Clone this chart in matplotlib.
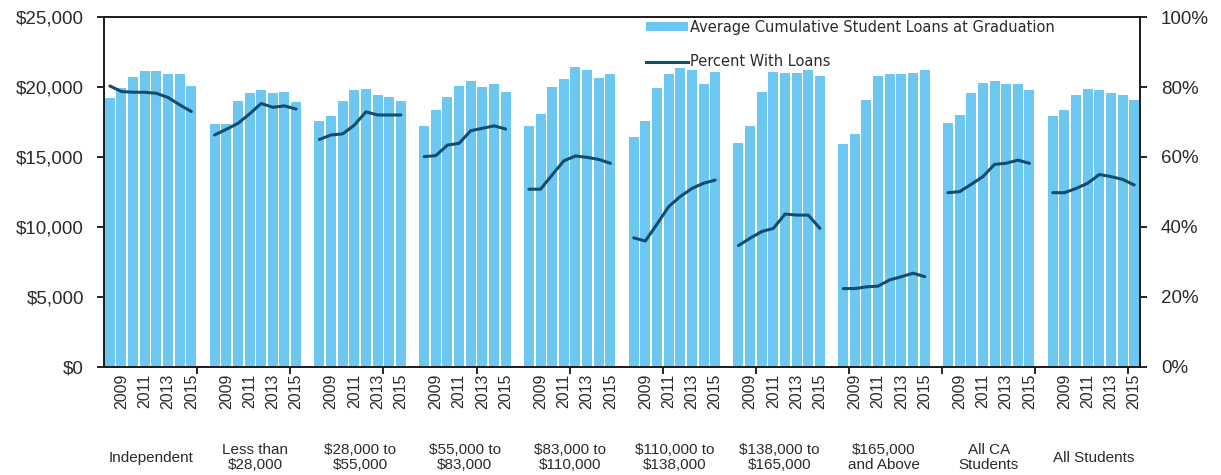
import matplotlib.pyplot as plt
import numpy as np
from matplotlib.patches import Patch
from matplotlib.lines import Line2D
from matplotlib.ticker import FuncFormatter

plt.rcParams['font.family'] = ['Liberation Sans', 'DejaVu Sans']

years = [2008, 2009, 2010, 2011, 2012, 2013, 2014, 2015]
groups = ['Independent', 'Less than\n$28,000', '$28,000 to\n$55,000', '$55,000 to\n$83,000',
          '$83,000 to\n$110,000', '$110,000 to\n$138,000', '$138,000 to\n$165,000',
          '$165,000\nand Above', 'All CA\nStudents', 'All Students']

# average cumulative student loans at graduation ($), one row per group, 2008-2015
loans = [
    [19250, 19900, 20700, 21150, 21150, 20950, 20950, 20100],
    [17350, 17350, 19000, 19550, 19800, 19550, 19650, 18900],
    [17550, 17900, 19000, 19800, 19850, 19450, 19300, 19000],
    [17200, 18350, 19300, 20100, 20450, 20000, 20200, 19650],
    [17200, 18100, 20000, 20550, 21450, 21200, 20650, 20900],
    [16450, 17550, 19900, 20900, 21350, 21200, 20250, 21100],
    [16000, 17200, 19650, 21100, 21000, 21000, 21200, 20800],
    [15900, 16650, 19100, 20800, 20900, 20900, 21000, 21200],
    [17450, 18000, 19550, 20300, 20450, 20200, 20200, 19800],
    [17900, 18350, 19450, 19850, 19800, 19550, 19450, 19100],
]

# percent with loans, 2008-2015
pct = [
    [80.3, 78.7, 78.5, 78.5, 78.2, 77.0, 74.9, 73.0],
    [66.3, 67.9, 69.6, 72.3, 75.3, 74.2, 74.6, 73.7],
    [65.0, 66.3, 66.6, 69.1, 72.9, 72.0, 72.0, 72.0],
    [60.1, 60.4, 63.4, 63.9, 67.5, 68.2, 68.9, 68.0],
    [50.8, 50.8, 54.9, 58.9, 60.3, 59.9, 59.3, 58.2],
    [36.9, 36.0, 40.8, 45.8, 48.7, 51.0, 52.5, 53.4],
    [34.7, 36.8, 38.7, 39.6, 43.7, 43.4, 43.4, 39.6],
    [22.4, 22.4, 22.9, 23.1, 24.9, 25.8, 26.8, 25.8],
    [49.8, 50.1, 52.2, 54.4, 57.9, 58.2, 59.1, 58.2],
    [49.8, 49.8, 51.0, 52.5, 55.0, 54.4, 53.6, 52.0],
]

bar_color = '#6cc8f1'
line_color = '#114d6e'
text_color = '#2b2b2b'

fig = plt.figure(figsize=(12.21, 4.75), dpi=100)
ax = fig.add_axes([0.0852, 0.2274, 0.8485, 0.7368])
ax2 = ax.twinx()

n = len(years)
step = n + 1
year_pos = []
year_lab = []
for g in range(len(groups)):
    x = np.arange(n) + g * step
    ax.bar(x, loans[g], width=0.86, color=bar_color, zorder=2)
    ax2.plot(x, pct[g], color=line_color, lw=2.2, solid_capstyle='round', zorder=3)
    for k, y in enumerate(years):
        if y % 2 == 1:
            year_pos.append(x[k])
            year_lab.append(str(y))
    ax.text(x.mean(), -0.259, groups[g], transform=ax.get_xaxis_transform(),
            ha='center', va='center', fontsize=11, color=text_color, linespacing=1.1)

total = len(groups) * step - 1
ax.set_xlim(-0.5, total - 0.5)
ax.set_ylim(0, 25000)
ax2.set_ylim(0, 100)

ax.set_xticks(np.arange(-0.5 + n, total, n))
ax.set_xticklabels([])
ax.set_xticks(year_pos, minor=True)
ax.set_xticklabels(year_lab, minor=True, rotation=90, fontsize=11.5, color=text_color)
ax.tick_params(axis='x', which='major', direction='out', length=5, width=1.2)
ax.tick_params(axis='x', which='minor', length=0, pad=5)

ax.set_yticks(np.arange(0, 25001, 5000))
ax.yaxis.set_major_formatter(FuncFormatter(lambda v, p: '${:,.0f}'.format(v)))
ax.tick_params(axis='y', direction='out', length=5, width=1.2, pad=9.5,
               labelsize=13.5, labelcolor=text_color)
ax2.set_yticks(np.arange(0, 101, 20))
ax2.yaxis.set_major_formatter(FuncFormatter(lambda v, p: '{:.0f}%'.format(v)))
ax2.tick_params(axis='y', direction='out', length=5, width=1.2, pad=10,
                labelsize=13.5, labelcolor=text_color)

for a in (ax, ax2):
    for s in a.spines.values():
        s.set_linewidth(1.2)
        s.set_color('#1a1a1a')

handles = [Patch(facecolor=bar_color, edgecolor='none'),
           Line2D([0], [0], color=line_color, lw=2.2)]
labels = ['Average Cumulative Student Loans at Graduation', 'Percent With Loans']
ax2.legend(handles, labels, loc='upper left', bbox_to_anchor=(0.51, 1.03), frameon=False,
           prop={'family': 'DejaVu Sans', 'size': 10.5}, labelspacing=1.35,
           handlelength=2.9, handleheight=0.5, handletextpad=0.15, labelcolor=text_color)

fig.savefig('out.png', dpi=100)
